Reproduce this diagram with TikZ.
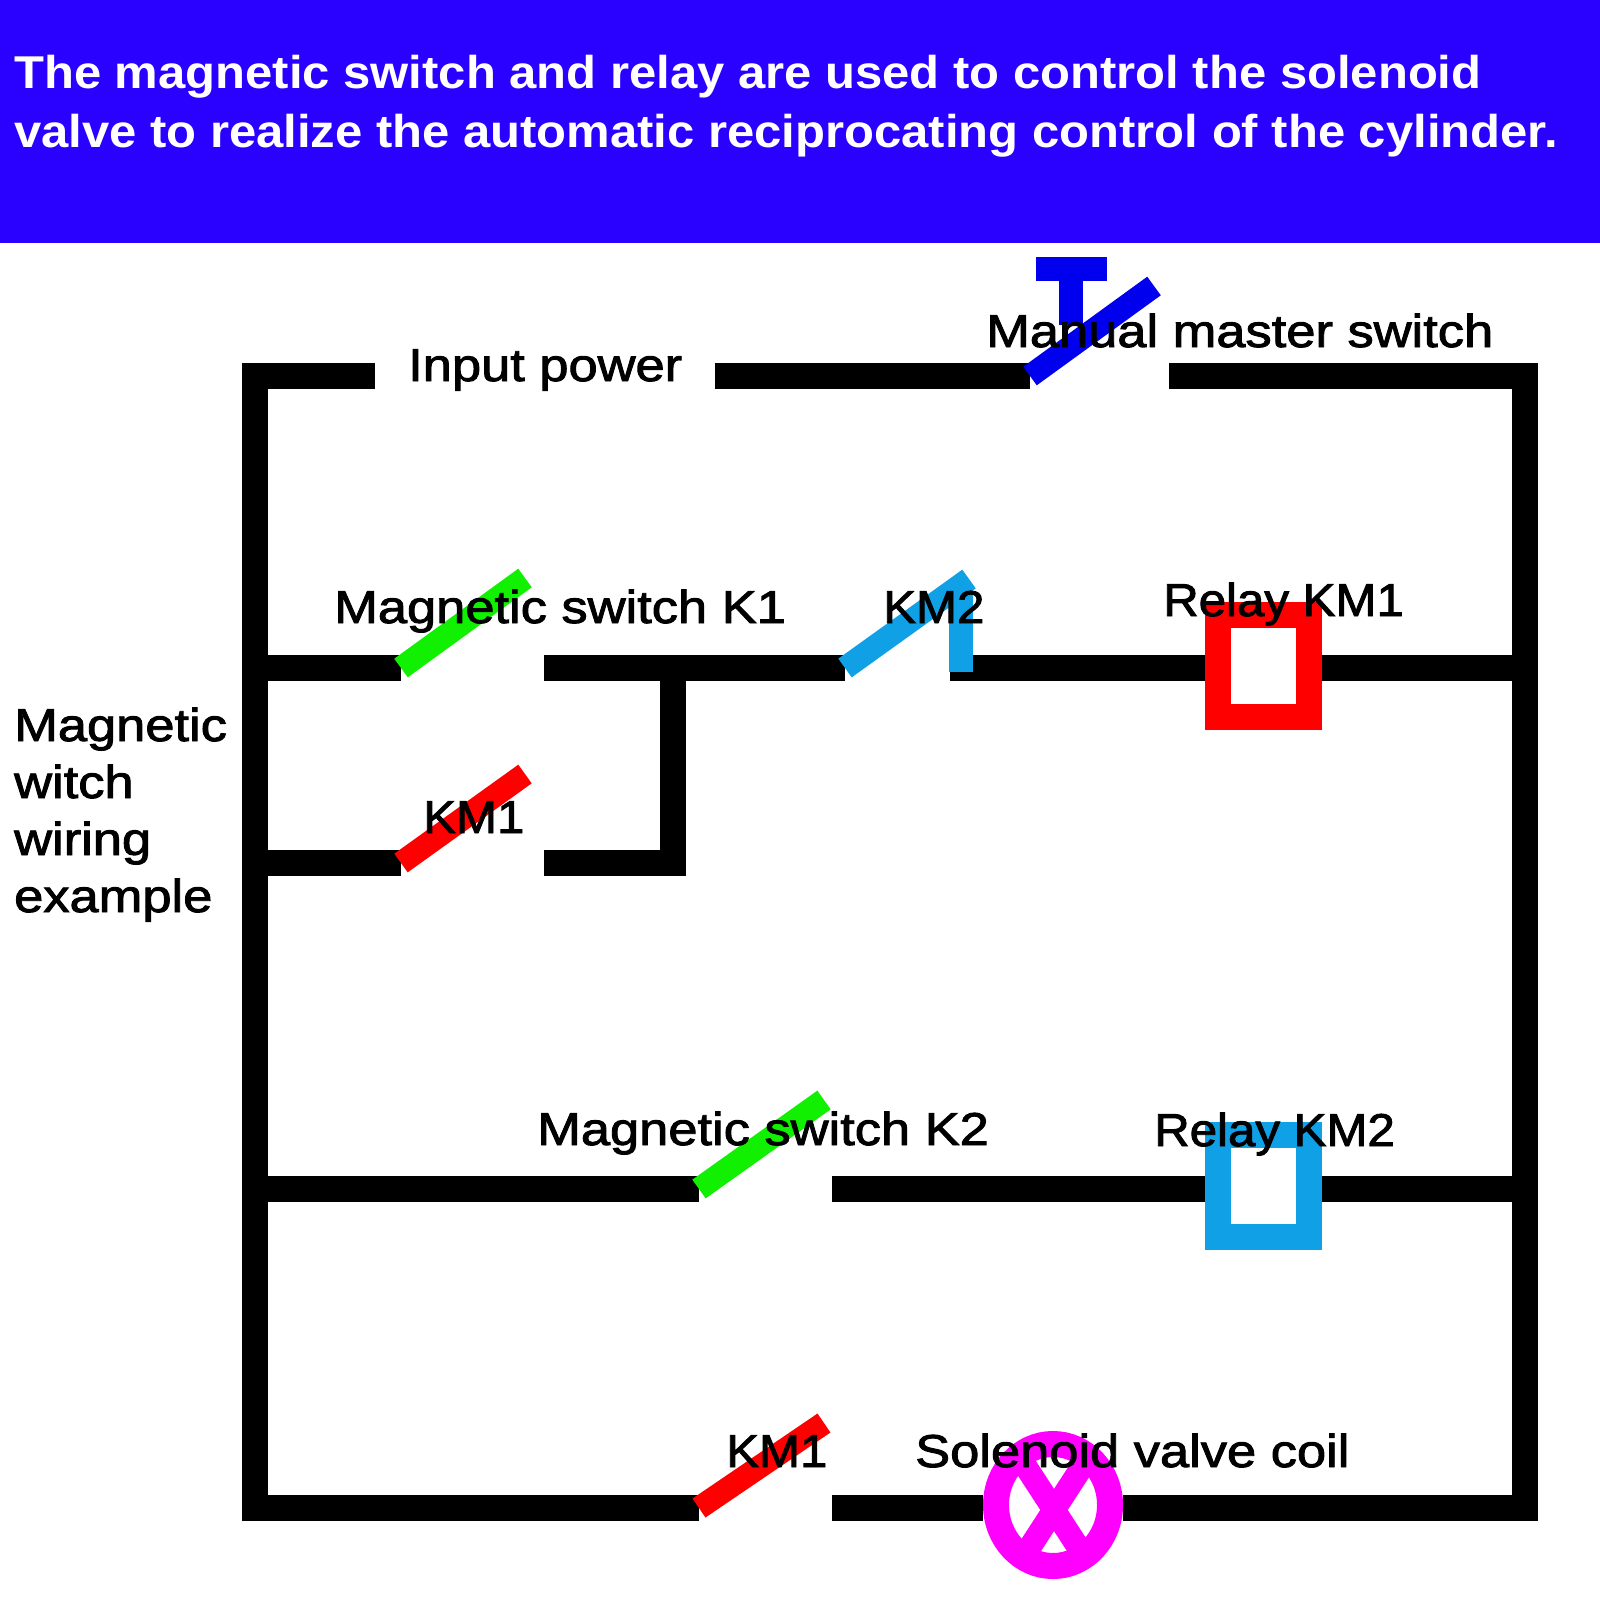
\documentclass[tikz,border=0pt]{standalone}
\usepackage{fontspec}
\setmainfont[FakeStretch=1.14,FakeBold=2]{Liberation Sans}
\newfontfamily\narrowfont[FakeStretch=1.07,FakeBold=2]{Liberation Sans}
\newfontfamily\headfont[FakeStretch=1.065]{Liberation Sans Bold}
\usetikzlibrary{shapes.geometric}

\definecolor{headblue}{HTML}{2A00FF}
\definecolor{swblue}{HTML}{0000EE}
\definecolor{skyblue}{HTML}{0FA0E6}
\definecolor{swgreen}{HTML}{10F000}
\definecolor{coilpink}{HTML}{FF00FF}

\begin{document}
\begin{tikzpicture}[
  x=1pt, y=-1pt,
  wire/.style={draw, line width=25.5pt},
  contact/.style={draw, line width=23pt, yshift=-3pt},
  relaybox/.style={rectangle, draw, fill=white, line width=26pt, inner sep=0pt,
              minimum width=91pt, minimum height=102pt},
  label/.style={anchor=base west, inner sep=0pt, font=\fontsize{46}{57}\selectfont, align=left},
  shortlabel/.style={label, font=\fontsize{46}{57}\narrowfont},
  headline/.style={anchor=base west, inner sep=0pt, text=white, font=\fontsize{46}{58}\headfont}
]
\useasboundingbox (0,0) rectangle (1600,1600);

% =======================================================
%                     HEADER
% =======================================================
\fill[headblue] (0,0) rectangle (1600,243);
\node[headline] (head1) at (14,89) {The magnetic switch and relay are used to control the solenoid};
\node[headline] (head2) at (14,147) {valve to realize the automatic reciprocating control of the cylinder.};

% =======================================================
%                     MAIN COMPONENTS
% =======================================================
\coordinate (tl) at (255,376);
\coordinate (tr) at (1525,376);
\coordinate (bl) at (255,1508);
\coordinate (br) at (1525,1508);

\node[relaybox, draw=red] (km1coil) at (1263,666) {};
\node[relaybox, draw=skyblue] (km2coil) at (1263,1186) {};
\node[ellipse, draw=coilpink, fill=white, line width=26pt, inner sep=0pt,
      minimum width=114pt, minimum height=122pt] (valve) at (1053,1505) {};

% contact end points
\coordinate (power_l) at (375,376);
\coordinate (power_r) at (715,376);
\coordinate (master_in) at (1030,376);
\coordinate (master_tip) at (1154,286);
\coordinate (master_out) at (1169,376);
\coordinate (k1_in) at (401,668);
\coordinate (k1_tip) at (525,578);
\coordinate (k1_out) at (544,668);
\coordinate (branch) at (673,668);
\coordinate (branch_low) at (673,863);
\coordinate (hold_in) at (401,863);
\coordinate (hold_tip) at (525,774);
\coordinate (hold_out) at (544,863);
\coordinate (km2_in) at (845,668);
\coordinate (km2_tip) at (969,579);
\coordinate (km2_out) at (950,668);
\coordinate (k2_in) at (699,1189);
\coordinate (k2_tip) at (824,1100);
\coordinate (k2_out) at (832,1189);
\coordinate (sol_in) at (699,1508);
\coordinate (sol_tip) at (824,1423);
\coordinate (sol_out) at (832,1508);

% =======================================================
%                     CONNECTIONS
% =======================================================

% outer frame
\draw[wire] (power_l) -- (tl) -- (bl) -- (sol_in);
\draw[wire] (power_r) -- (master_in);
\draw[wire] (master_out) -- (tr) -- (br) -- (valve.east |- br);
\draw[wire] (sol_out) -- (valve.west |- sol_out);

% K1 and holding branch
\draw[wire] (tl |- k1_in) -- (k1_in);
\draw[wire] (k1_out) -- (km2_in);
\draw[wire] (tl |- hold_in) -- (hold_in);
\draw[wire] (hold_out) -- (branch_low) -- (branch);
\draw[wire] (km2_out) -- (km1coil.west |- km2_out);
\draw[wire] (km1coil.east |- km2_out) -- (tr |- km2_out);

% K2
\draw[wire] (tl |- k2_in) -- (k2_in);
\draw[wire] (k2_out) -- (km2coil.west |- k2_out);
\draw[wire] (km2coil.east |- k2_out) -- (tr |- k2_out);

% contacts
\draw[contact, swblue] (master_in) -- (master_tip);
\fill[swblue] (1036,257) rectangle (1107,281);
\fill[swblue] (1059,281) rectangle (1083,325);
\draw[contact, swgreen] (k1_in) -- (k1_tip);
\draw[contact, red] (hold_in) -- (hold_tip);
\draw[contact, skyblue] (km2_in) -- (km2_tip);
\fill[skyblue] (949,585) rectangle (973,672);
\draw[contact, swgreen] (k2_in) -- (k2_tip);
\draw[contact, red] (sol_in) -- (sol_tip);

% valve cross
\begin{scope}
\clip (valve.center) ellipse [x radius=50pt, y radius=55pt];
\draw[line width=23pt, coilpink] (1015,1450) -- (1093,1570);
\draw[line width=23pt, coilpink] (1093,1450) -- (1015,1570);
\end{scope}

% =======================================================
%                     LABELS
% =======================================================
\node[label] (power) at (408,381) {Input power};
\node[label] (master) at (986,347) {Manual master switch};
\node[label] (k1) at (334,623) {Magnetic switch K1};
\node[shortlabel] (km2) at (883,623) {KM2};
\node[shortlabel] (km1) at (1163,616) {Relay KM1};
\node[label] (example) at (14,912) {Magnetic\\witch\\wiring\\example};
\node[shortlabel] (hold) at (423,833) {KM1};
\node[label] (k2) at (537,1145) {Magnetic switch K2};
\node[shortlabel] (km2r) at (1154,1146) {Relay KM2};
\node[shortlabel] (sol) at (726,1467) {KM1};
\node[label] (coil) at (915,1467) {Solenoid valve coil};

\end{tikzpicture}
\end{document}
